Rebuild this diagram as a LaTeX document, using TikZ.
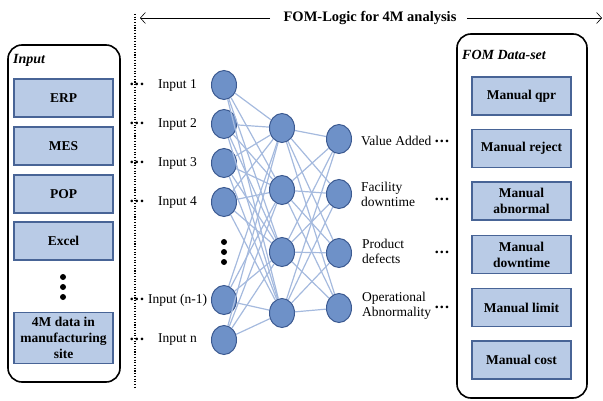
\documentclass[tikz,border=0pt]{standalone}
\usepackage{fontspec}
\setmainfont{Liberation Serif}
\usetikzlibrary{arrows.meta,shapes.geometric}

\definecolor{boxfill}{RGB}{185,203,230}
\definecolor{boxline}{RGB}{72,100,150}
\definecolor{neuronfill}{RGB}{110,145,200}
\definecolor{neuronline}{RGB}{60,90,145}
\definecolor{linkline}{RGB}{165,186,222}

\newcommand{\rowdots}{\raisebox{.25ex}{\fontsize{16}{16}\selectfont\textbf{.\kern1.2pt.\kern1.2pt.}}}

\tikzset{
  container/.style={draw=black, line width=1.6pt, rounded corners=14pt},
  boxtitle/.style={font=\fontsize{14}{16}\selectfont\bfseries\itshape, anchor=west, inner sep=0pt},
  databox/.style={draw=boxline, fill=boxfill, line width=1.3pt, minimum width=99pt,
    minimum height=38pt, align=center, inner sep=1pt,
    font=\fontsize{13.5}{16}\selectfont\bfseries},
  neuron/.style={ellipse, draw=neuronline, fill=neuronfill, line width=1pt,
    minimum width=25pt, minimum height=29pt, inner sep=0pt},
  link/.style={draw=linkline, line width=1.2pt},
  lbl/.style={anchor=west, align=left, inner sep=0pt},
  dotlbl/.style={inner sep=0pt},
  titlearrow/.style={-{Straight Barb[length=5pt,width=11pt]}, line width=0.6pt},
  divider/.style={line width=1.3pt, dash pattern=on 1.1pt off 1.6pt}
}

\begin{document}
\begin{tikzpicture}[x=1pt, y=-1pt, font=\fontsize{13.5}{15}\selectfont]
\useasboundingbox (0,0) rectangle (603,401);

% title with arrows and the dotted divider
\node[font=\fontsize{14.5}{16}\selectfont\bfseries] (title) at (370,18) {FOM-Logic for 4M analysis};
\coordinate (leftend) at (140,18);
\coordinate (rightend) at (602,18);
\draw[titlearrow] ([xshift=-10pt]title.west) -- (leftend);
\draw[titlearrow] ([xshift=7pt]title.east) -- (rightend);
\draw[divider] (135,14) -- (135,388);

% input sources
\draw[container] (8,45) rectangle (120,382);
\node[boxtitle] (intitle) at (13,60) {Input};
\foreach \name/\y/\txt in {erp/98/ERP, mes/146/MES, pop/194/POP, excel/241/Excel}
  \node[databox] (\name) at (63.5,\y) {\txt};
\node[databox, minimum height=51pt] (site) at (63.5,338) {4M data in\\manufacturing\\site};
\foreach \y in {277,287,297}
  \fill (63,\y) circle[radius=3pt];

% FOM data-set
\draw[container] (457,34) rectangle (587,398);
\node[boxtitle] (outtitle) at (462,55) {FOM Data-set};
\foreach \name/\y/\txt in {qpr/96/{Manual qpr}, reject/148.5/{Manual reject},
    abnormal/201/{Manual\\abnormal}, downtime/254.5/{Manual\\downtime},
    limit/307.5/{Manual limit}, cost/360/{Manual cost}}
  \node[databox] (\name) at (521.5,\y) {\txt};

% network
\foreach \i/\y in {1/85, 2/124, 3/163, 4/202, 5/300, 6/340}
  \node[neuron] (in\i) at (224,\y) {};
\foreach \i/\y in {1/128, 2/190, 3/252, 4/313}
  \node[neuron] (hid\i) at (282,\y) {};
\foreach \i/\y in {1/139, 2/194, 3/253, 4/308}
  \node[neuron] (out\i) at (339,\y) {};
\foreach \i in {1,...,6}
  \foreach \j in {1,...,4}
    \draw[link] (in\i) -- (hid\j);
\foreach \i in {1,...,4}
  \foreach \j in {1,...,4}
    \draw[link] (hid\i) -- (out\j);
\foreach \y in {242,252,262}
  \fill (224,\y) circle[radius=3pt];

% input labels
\foreach \i/\x/\y/\txt in {1/158/85/{Input 1}, 2/158/124/{Input 2}, 3/158/163/{Input 3},
    4/158/202/{Input 4}, 5/148/300/{Input (n-1)}, 6/158/340/{Input n}}
{
  \node[lbl] (inlbl\i) at (\x,\y) {\txt};
  \node[dotlbl] (indot\i) at (137,\y) {\rowdots};
}

% output labels
\node[lbl] (outlbl1) at (361,141) {Value Added};
\node[lbl] (outlbl2) at (361,194) {Facility\\downtime};
\node[lbl] (outlbl3) at (362,251) {Product\\defects};
\node[lbl] (outlbl4) at (362,306) {Operational\\Abnormality};
\foreach \i/\y in {1/142, 2/200, 3/253, 4/308}
  \node[dotlbl] (outdot\i) at (442,\y) {\rowdots};
\end{tikzpicture}
\end{document}
